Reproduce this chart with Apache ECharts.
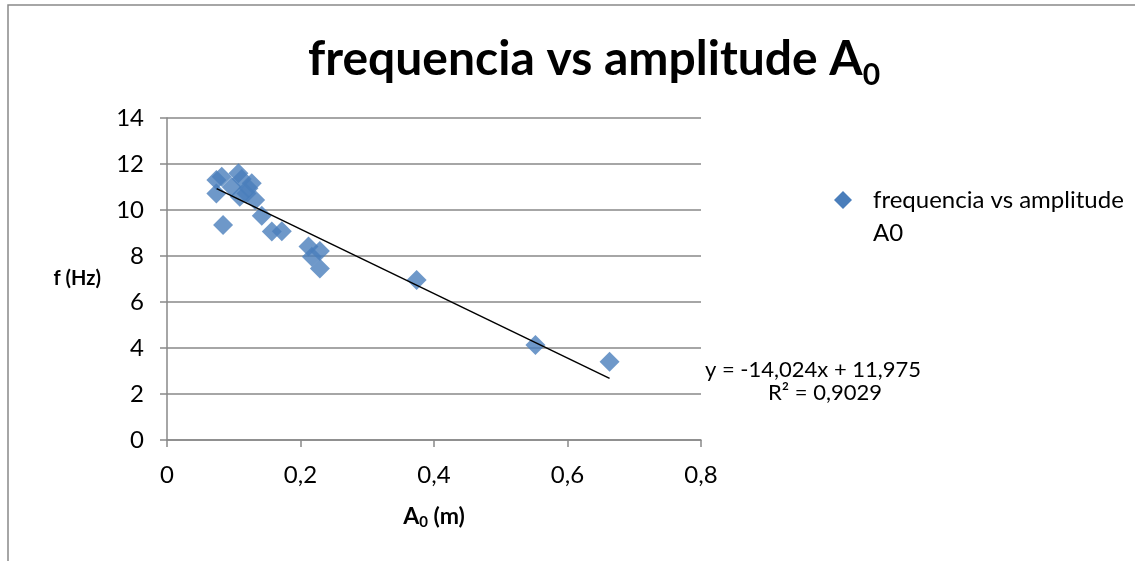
<!DOCTYPE html>
<html>
<head>
<meta charset="utf-8">
<script src="https://cdn.jsdelivr.net/npm/echarts@6/dist/echarts.min.js"></script>
<style>
  html, body { margin: 0; padding: 0; background: #fff; }
  #chart { width: 1135px; height: 561px; }
</style>
</head>
<body>
<div id="chart"></div>
<script>
// amplitude A0 (m) and frequency f (Hz)
const amplitude = [0.074, 0.082, 0.074, 0.084, 0.097, 0.107, 0.112, 0.109, 0.119, 0.127, 0.122, 0.132, 0.142, 0.157, 0.172, 0.212, 0.217, 0.229, 0.229, 0.374, 0.552, 0.663];
const frequency = [11.3, 11.45, 10.72, 9.35, 11.0, 11.6, 11.35, 10.58, 10.72, 11.16, 10.95, 10.43, 9.75, 9.06, 9.08, 8.41, 7.97, 8.22, 7.46, 6.96, 4.13, 3.4];

// linear trendline shown on the chart
const trendSlope = -14.024;
const trendIntercept = 11.975;
const trendRange = [0.0744, 0.663];

const xTicks = [0, 0.2, 0.4, 0.6, 0.8];
const yTicks = [0, 2, 4, 6, 8, 10, 12, 14];

const font = "Lato, 'Open Sans', sans-serif";
const gray = "#898989";
const blue = "#4a7ebb";

const points = amplitude.map((a, i) => [a, frequency[i]]);
const trend = trendRange.map((x) => [x, trendSlope * x + trendIntercept]);

const chart = echarts.init(document.getElementById("chart"), null, { renderer: "canvas" });

chart.setOption({
  animation: false,
  backgroundColor: "#fff",
  textStyle: { fontFamily: font, color: "#000" },
  title: {
    text: "{t|frequencia vs amplitude A}{s|0}",
    left: 303,
    top: 25,
    textStyle: {
      rich: {
        t: { fontFamily: font, fontWeight: "bold", fontSize: 48, color: "#000" },
        s: { fontFamily: font, fontWeight: "bold", fontSize: 30, color: "#000", padding: [30, 0, 0, 0] }
      }
    }
  },
  grid: { left: 167, right: 434, top: 118, bottom: 121, containLabel: false },
  xAxis: {
    type: "value",
    min: 0,
    max: 0.8,
    interval: 0.2,
    name: "{b|A}{s|0}{b| (m)}",
    nameLocation: "middle",
    nameGap: 63,
    nameTextStyle: {
      rich: {
        b: { fontFamily: font, fontWeight: "bold", fontSize: 23, color: "#000" },
        s: { fontFamily: font, fontWeight: "bold", fontSize: 15, color: "#000", padding: [12, 0, 0, 0] }
      }
    },
    axisLine: { show: true, lineStyle: { color: gray, width: 1.5 } },
    axisTick: { show: true, inside: false, length: 7, lineStyle: { color: gray, width: 1.5 } },
    splitLine: { show: false },
    axisLabel: {
      fontSize: 24, color: "#000", margin: 23, fontFamily: font,
      formatter: (v) => (xTicks.includes(+v.toFixed(1)) ? String(+v.toFixed(1)).replace(".", ",") : "")
    }
  },
  yAxis: {
    type: "value",
    min: 0,
    max: 14,
    interval: 2,
    name: "f (Hz)",
    nameLocation: "middle",
    nameRotate: 0,
    nameGap: 66,
    nameTextStyle: { fontFamily: font, fontWeight: "bold", fontSize: 20, color: "#000", padding: [8, 0, 0, 0] },
    axisLine: { show: true, lineStyle: { color: gray, width: 1.5 } },
    axisTick: { show: true, inside: false, length: 7, lineStyle: { color: gray, width: 1.5 } },
    splitLine: { show: true, lineStyle: { color: gray, width: 1.5 } },
    axisLabel: {
      fontSize: 24, color: "#000", margin: 23, fontFamily: font,
      formatter: (v) => (yTicks.includes(v) ? String(v) : "")
    }
  },
  series: [
    {
      name: "frequencia vs amplitude A0",
      type: "scatter",
      symbol: "diamond",
      symbolSize: 20,
      itemStyle: { color: blue },
      data: points,
      z: 2
    },
    {
      name: "trend",
      type: "line",
      data: trend,
      symbol: "none",
      lineStyle: { color: "#000", width: 1.5 },
      z: 3
    }
  ],
  graphic: [
    {
      type: "rect",
      shape: { x: 8, y: 5, width: 1300, height: 700 },
      style: { fill: "none", stroke: gray, lineWidth: 1.5 },
      silent: true
    },
    {
      type: "polygon",
      shape: { points: [[843, 191], [852, 200], [843, 209], [834, 200]] },
      style: { fill: blue }
    },
    {
      type: "text",
      left: 873,
      top: 184,
      style: { text: "frequencia vs amplitude\nA0", font: "24px " + font, fill: "#000", lineHeight: 33 }
    },
    {
      type: "text",
      left: 705,
      top: 359,
      style: { text: "y = -14,024x + 11,975", font: "22px " + font, fill: "#000" }
    },
    {
      type: "text",
      left: 768,
      top: 382,
      style: { text: "R² = 0,9029", font: "22px " + font, fill: "#000" }
    }
  ]
});
</script>
</body>
</html>
